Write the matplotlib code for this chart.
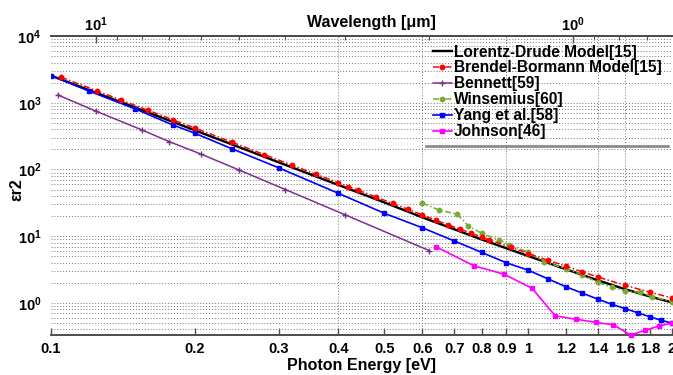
import numpy as np
import matplotlib
matplotlib.use("Agg")
import matplotlib.pyplot as plt
from matplotlib.ticker import FixedLocator, FuncFormatter, NullFormatter, NullLocator, LogLocator
from matplotlib.lines import Line2D

plt.rcParams['font.family'] = ['Liberation Sans', 'DejaVu Sans']
plt.rcParams['font.weight'] = 'bold'
plt.rcParams['mathtext.fontset'] = 'custom'
plt.rcParams['mathtext.rm'] = 'Liberation Sans:bold'
plt.rcParams['mathtext.bf'] = 'Liberation Sans:bold'
plt.rcParams['mathtext.it'] = 'Liberation Sans:bold:italic'

# ---------------- data ----------------
ld_energy = [0.1, 0.12, 0.15, 0.2, 0.25, 0.3, 0.4, 0.5, 0.6, 0.7, 0.8, 0.9, 1.0, 1.2, 1.4, 1.6, 1.8, 2.0]
ld_eps2 = [2550, 1550, 850, 387, 211, 128, 58.7, 32, 19.2, 12.7, 8.9, 6.6, 5.05, 3.2, 2.18, 1.6, 1.25, 1.02]

bb_energy = [0.105, 0.125, 0.14, 0.16, 0.18, 0.2, 0.24, 0.28, 0.32, 0.36, 0.4, 0.42, 0.44, 0.48,
             0.52, 0.56, 0.6, 0.64, 0.68, 0.72, 0.76, 0.8, 0.83, 0.92, 1.0, 1.1, 1.2, 1.3, 1.4,
             1.6, 1.8, 2.0]
bb_eps2 = [2410, 1500, 1100, 767, 556, 418, 255, 167, 116, 84.5, 63.4, 55.5, 49, 38.6,
           31, 25.3, 20.8, 17.4, 14.8, 12.8, 11.1, 9.7, 8.8, 6.8, 5.5, 4.35, 3.55, 2.92, 2.45,
           1.83, 1.45, 1.19]

bennett_energy = [0.1033, 0.124, 0.155, 0.177, 0.2067, 0.248, 0.31, 0.413, 0.62]
bennett_eps2 = [1310, 752, 392, 261, 169, 98, 50, 21, 6.1]

wins_energy = [0.6, 0.65, 0.71, 0.75, 0.8, 0.87, 0.91, 1.0, 1.08, 1.2, 1.3, 1.4, 1.5, 1.6, 1.72, 1.82, 2.0]
wins_eps2 = [31.5, 24.7, 21.4, 14.2, 11.0, 8.8, 7.5, 5.8, 4.15, 3.25, 2.63, 2.03, 1.71, 1.51, 1.44, 1.24, 1.05]

yang_energy = [0.1, 0.12, 0.15, 0.18, 0.2, 0.24, 0.3, 0.4, 0.5, 0.6, 0.7, 0.8, 0.9, 1.0,
               1.1, 1.2, 1.3, 1.4, 1.5, 1.6, 1.7, 1.8, 1.9, 2.0]
yang_eps2 = [2550, 1500, 810, 465, 350, 203, 106, 44, 22, 13.4, 8.5, 5.7, 4.0, 3.1,
             2.3, 1.75, 1.4, 1.14, 0.95, 0.82, 0.71, 0.62, 0.55, 0.50]

johnson_energy = [0.64, 0.77, 0.89, 1.02, 1.14, 1.26, 1.39, 1.51, 1.64, 1.76, 1.88, 2.0]
johnson_eps2 = [7.0, 3.6, 2.7, 1.65, 0.64, 0.57, 0.51, 0.47, 0.33, 0.39, 0.45, 0.50]

x_ticks = [0.1, 0.2, 0.3, 0.4, 0.5, 0.6, 0.7, 0.8, 0.9, 1.0, 1.2, 1.4, 1.6, 1.8, 2.0]
x_ticklabels = ['0.1', '0.2', '0.3', '0.4', '0.5', '0.6', '0.7', '0.8', '0.9', '1',
                '1.2', '1.4', '1.6', '1.8', '2']
x_grid_shown = [0.4, 0.6, 0.9, 1.4, 1.6]

labels = ['Lorentz-Drude Model[15]', 'Brendel-Bormann Model[15]', 'Bennett[59]',
          'Winsemius[60]', 'Yang et al.[58]', 'Johnson[46]']

HC = 1.2398  # eV*um

# ---------------- figure ----------------
fig = plt.figure(figsize=(6.73, 3.75), dpi=100)
ax = fig.add_axes([0.0758, 0.106, 0.9223, 0.798])
ax.set_xscale('log')
ax.set_yscale('log')

dashdot = (0, (4, 1.5, 1, 1.5))
ax.plot(ld_energy, ld_eps2, color='black', lw=1.7, label=labels[0], zorder=3)
ax.plot(bb_energy, bb_eps2, color='red', lw=1.1, ls=dashdot, marker='o', ms=3.2,
        mec='red', mfc='red', label=labels[1], zorder=4)
ax.plot(bennett_energy, bennett_eps2, color='#7E2F8E', lw=1.1, marker='+', ms=4,
        mew=1, label=labels[2], zorder=3)
ax.plot(wins_energy, wins_eps2, color='#77AC30', lw=1.1, ls=dashdot, marker='o', ms=3.2,
        label=labels[3], zorder=3)
ax.plot(yang_energy, yang_eps2, color='#0000FF', lw=1.2, marker='s', ms=2.6,
        label=labels[4], zorder=3)
ax.plot(johnson_energy, johnson_eps2, color='#FF00FF', lw=1.2, marker='s', ms=2.8,
        label=labels[5], zorder=3, clip_on=False)

ax.set_xlim(0.1, 2.0)
ax.set_ylim(0.328, 1e4)

# ticks
ax.xaxis.set_major_locator(FixedLocator(x_ticks))
ax.xaxis.set_minor_locator(NullLocator())
ax.set_xticklabels(x_ticklabels)
ax.yaxis.set_major_locator(LogLocator(base=10))
ax.yaxis.set_minor_locator(LogLocator(base=10, subs=np.arange(2, 10)))
ax.yaxis.set_major_formatter(FuncFormatter(lambda v, p: r'$\mathbf{10^{%d}}$' % round(np.log10(v))))
ax.yaxis.set_minor_formatter(NullFormatter())
ax.tick_params(axis='x', which='both', direction='in', length=5, width=1, color='0.3',
               labelsize=10.5, pad=5)
ax.tick_params(axis='y', which='both', length=0, labelsize=10.5, pad=7)
for lab in ax.get_xticklabels() + ax.get_yticklabels():
    lab.set_fontweight('bold')

# grid
grid_style = dict(ls=(0, (1, 2)), color='0.45', lw=0.7)
ax.grid(True, axis='y', which='both', **grid_style)
for xv in x_grid_shown:
    ax.axvline(xv, zorder=0.5, **grid_style)

# spines
for s in ['left', 'right']:
    ax.spines[s].set_visible(False)
for s in ['top', 'bottom']:
    ax.spines[s].set_color('0.3')
    ax.spines[s].set_linewidth(1.4)

# top axis (wavelength)
def e2l(x):
    x = np.asarray(x, dtype=float)
    with np.errstate(divide='ignore', invalid='ignore'):
        return HC / x

sec = ax.secondary_xaxis('top', functions=(e2l, e2l))
sec.xaxis.set_major_locator(LogLocator(base=10))
sec.xaxis.set_major_formatter(FuncFormatter(lambda v, p: r'$\mathbf{10^{%d}}$' % round(np.log10(v))))
sec.xaxis.set_minor_formatter(NullFormatter())
sec.tick_params(axis='x', which='major', direction='in', length=5, width=1, color='0.3',
                labelsize=10.5, pad=1.5)
sec.tick_params(axis='x', which='minor', direction='in', length=3, width=0.8, color='0.3')
sec.spines['top'].set_color('0.3')
sec.spines['top'].set_linewidth(1.4)
ax.text(0.5155, 1.0435, 'Wavelength [μm]', transform=ax.transAxes, ha='center', va='center',
        fontsize=11.5, fontweight='bold')

ax.set_xlabel('Photon Energy [eV]', fontsize=11.5, fontweight='bold')
ax.xaxis.set_label_coords(0.5, -0.1)
ax.xaxis.label.set_va('center')
ax.set_ylabel('εr2', fontsize=11.5, fontweight='bold')
ax.yaxis.set_label_coords(-0.0548, 0.4855)
ax.yaxis.label.set_va('center')

leg = ax.legend(loc='upper right', bbox_to_anchor=(0.997, 1.0), frameon=False,
                prop={'size': 11.2, 'weight': 'bold'}, handlelength=1.25,
                handletextpad=0.1, labelspacing=0.06, borderaxespad=0.1, borderpad=0.45)

fig.canvas.draw()
bb = leg.get_window_extent(fig.canvas.get_renderer())
inv = fig.transFigure.inverted()
(x0, y0), (x1, _) = inv.transform([(bb.x0, bb.y0), (bb.x1, bb.y0)])
fig.add_artist(Line2D([x0, x1], [y0, y0], color='0.55', lw=2, transform=fig.transFigure))

fig.savefig('out.png', dpi=100)
